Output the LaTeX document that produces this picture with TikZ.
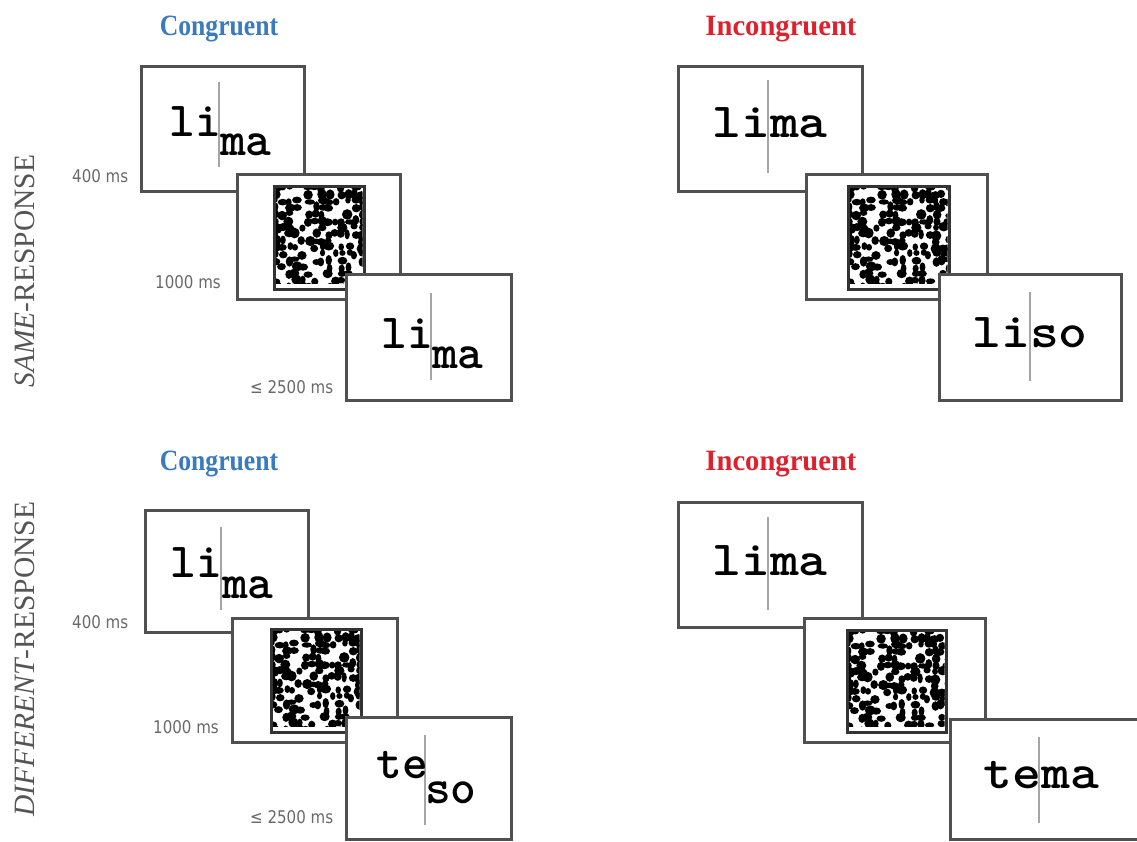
\documentclass[tikz,border=0pt]{standalone}
\usepackage{fontspec}
\setmainfont{Liberation Serif}
\newfontfamily\labfont{DejaVu Sans}
\usetikzlibrary{calc}
\definecolor{cblue}{RGB}{58,122,190}
\definecolor{cred}{RGB}{222,34,45}
\definecolor{framec}{RGB}{80,80,80}
\definecolor{cursorc}{RGB}{165,165,165}
\definecolor{labc}{RGB}{105,105,105}
\definecolor{sidec}{RGB}{85,85,85}
\tikzset{
  screen/.style={draw=framec, line width=3pt, fill=white, inner sep=0pt, anchor=north west},
  maskframe/.style={draw=black!80, line width=2.5pt, fill=white, inner sep=0pt, anchor=north west},
  word/.style={font=\ttfamily\bfseries\fontsize{49}{51}\selectfont, inner sep=0pt},
  cursor/.style={draw=cursorc, line width=1.6pt},
  timelab/.style={font=\labfont\fontsize{17.5}{20}\selectfont, text=labc, inner sep=0pt, anchor=base west},
  cond/.style={font=\bfseries\fontsize{29.5}{32}\selectfont, inner sep=0pt, anchor=base},
  side/.style={font=\fontsize{29.5}{32}\selectfont, text=sidec, rotate=90, inner sep=0pt}
}
\newcommand{\sx}[2]{\scalebox{#1}[1]{#2}}
\newcommand{\scr}[5]{\node[screen, minimum width={#4-#2}, minimum height={#5-#3}] (#1) at (#2,#3) {};}
\newcommand{\msk}[5]{%
  \node[maskframe, minimum width={#4-#2}, minimum height={#5-#3}] (#1) at (#2,#3) {};
  \begin{scope}
    \clip ([xshift=3pt,yshift=-3pt]#1.north west) rectangle ([xshift=-3pt,yshift=7pt]#1.south east);
    \begin{scope}[shift={(#1.north west)}]
      \pgfmathsetseed{1234}
      \foreach \i in {0,...,15}{\foreach \j in {0,...,15}{%
        \pgfmathsetmacro{\p}{rnd}%
        \pgfmathsetmacro{\rx}{2.6+2.8*rnd}%
        \pgfmathsetmacro{\ry}{2.6+2.8*rnd}%
        \pgfmathsetmacro{\ox}{3*rnd-1.5}%
        \pgfmathsetmacro{\oy}{3*rnd-1.5}%
        \ifdim\p pt<0.62pt
          \fill[black] (\i*6.6+3+\ox,\j*6.6+3+\oy) ellipse[x radius=\rx pt, y radius=\ry pt];
        \fi}}
    \end{scope}
  \end{scope}}
\begin{document}
\begin{tikzpicture}[x=1pt,y=-1pt]
\useasboundingbox (0,0) rectangle (1137,841);
\clip (0,0) rectangle (1137,841);

% side labels
\node[side] (sideA) at (25,271) {{\itshape SAME}-RESPONSE};
\node[side] (sideB) at (25,659) {{\itshape DIFFERENT}-RESPONSE};

% condition titles
\node[cond, text=cblue] (tA) at (219,35) {\sx{0.87}{Congruent}};
\node[cond, text=cred] (tB) at (781,35) {\sx{0.97}{Incongruent}};
\node[cond, text=cblue] (tC) at (219,470) {\sx{0.87}{Congruent}};
\node[cond, text=cred] (tD) at (781,470) {\sx{0.97}{Incongruent}};

% time labels
\node[timelab] (lA1) at (72,182) {\sx{0.86}{400 ms}};
\node[timelab] (lA2) at (155,288) {\sx{0.86}{1000 ms}};
\node[timelab] (lA3) at (250,393) {\sx{0.86}{≤ 2500 ms}};
\node[timelab] (lC1) at (72,628) {\sx{0.86}{400 ms}};
\node[timelab] (lC2) at (153,733) {\sx{0.86}{1000 ms}};
\node[timelab] (lC3) at (250,823) {\sx{0.86}{≤ 2500 ms}};

% ===== panel A : congruent, same response =====
\scr{A1}{140}{65}{303}{190}
\coordinate (a1t) at (219,82); \coordinate (a1b) at (219,167);
\draw[cursor] (a1t) -- (a1b);
\node[word, anchor=base east] (a1l) at (221,136) {li};
\node[word, anchor=base west] (a1r) at (220,155) {ma};
\scr{A2}{236}{173}{399}{298}
\msk{mA}{273}{185}{363}{288}
\scr{A3}{345}{273}{510}{399}
\coordinate (a3t) at (431,293); \coordinate (a3b) at (431,380);
\draw[cursor] (a3t) -- (a3b);
\node[word, anchor=base east] (a3l) at (433,348) {li};
\node[word, anchor=base west] (a3r) at (432,368) {ma};

% ===== panel B : incongruent, same response =====
\scr{B1}{677}{65}{861}{190}
\coordinate (b1t) at (768,80); \coordinate (b1b) at (768,173);
\draw[cursor] (b1t) -- (b1b);
\node[word, anchor=base] (b1w) at (770,137) {\sx{1.12}{lima}};
\scr{B2}{805}{173}{986}{298}
\msk{mB}{847}{185}{948}{288}
\scr{B3}{938}{273}{1120}{399}
\coordinate (b3t) at (1030,292); \coordinate (b3b) at (1030,381);
\draw[cursor] (b3t) -- (b3b);
\node[word, anchor=base] (b3w) at (1030,347) {\sx{1.12}{liso}};

% ===== panel C : congruent, different response =====
\scr{C1}{144}{509}{307}{631}
\coordinate (c1t) at (221,527); \coordinate (c1b) at (221,610);
\draw[cursor] (c1t) -- (c1b);
\node[word, anchor=base east] (c1l) at (222,577) {li};
\node[word, anchor=base west] (c1r) at (222,598) {ma};
\scr{C2}{231}{617}{396}{741}
\msk{mC}{270}{628}{360}{731}
\scr{C3}{345}{716}{510}{838}
\coordinate (c3t) at (425,735); \coordinate (c3b) at (425,825);
\draw[cursor] (c3t) -- (c3b);
\node[word, anchor=base east] (c3l) at (428,778) {te};
\node[word, anchor=base west] (c3r) at (425,803) {so};

% ===== panel D : incongruent, different response =====
\scr{D1}{677}{501}{861}{626}
\coordinate (d1t) at (768,517); \coordinate (d1b) at (768,610);
\draw[cursor] (d1t) -- (d1b);
\node[word, anchor=base] (d1w) at (770,575) {\sx{1.12}{lima}};
\scr{D2}{803}{617}{984}{741}
\msk{mD}{846}{629}{945}{731}
\scr{D3}{949}{718}{1160}{838}
\coordinate (d3t) at (1039,737); \coordinate (d3b) at (1039,823);
\draw[cursor] (d3t) -- (d3b);
\node[word, anchor=base] (d3w) at (1041.5,788) {\sx{1.12}{tema}};
\end{tikzpicture}
\end{document}
